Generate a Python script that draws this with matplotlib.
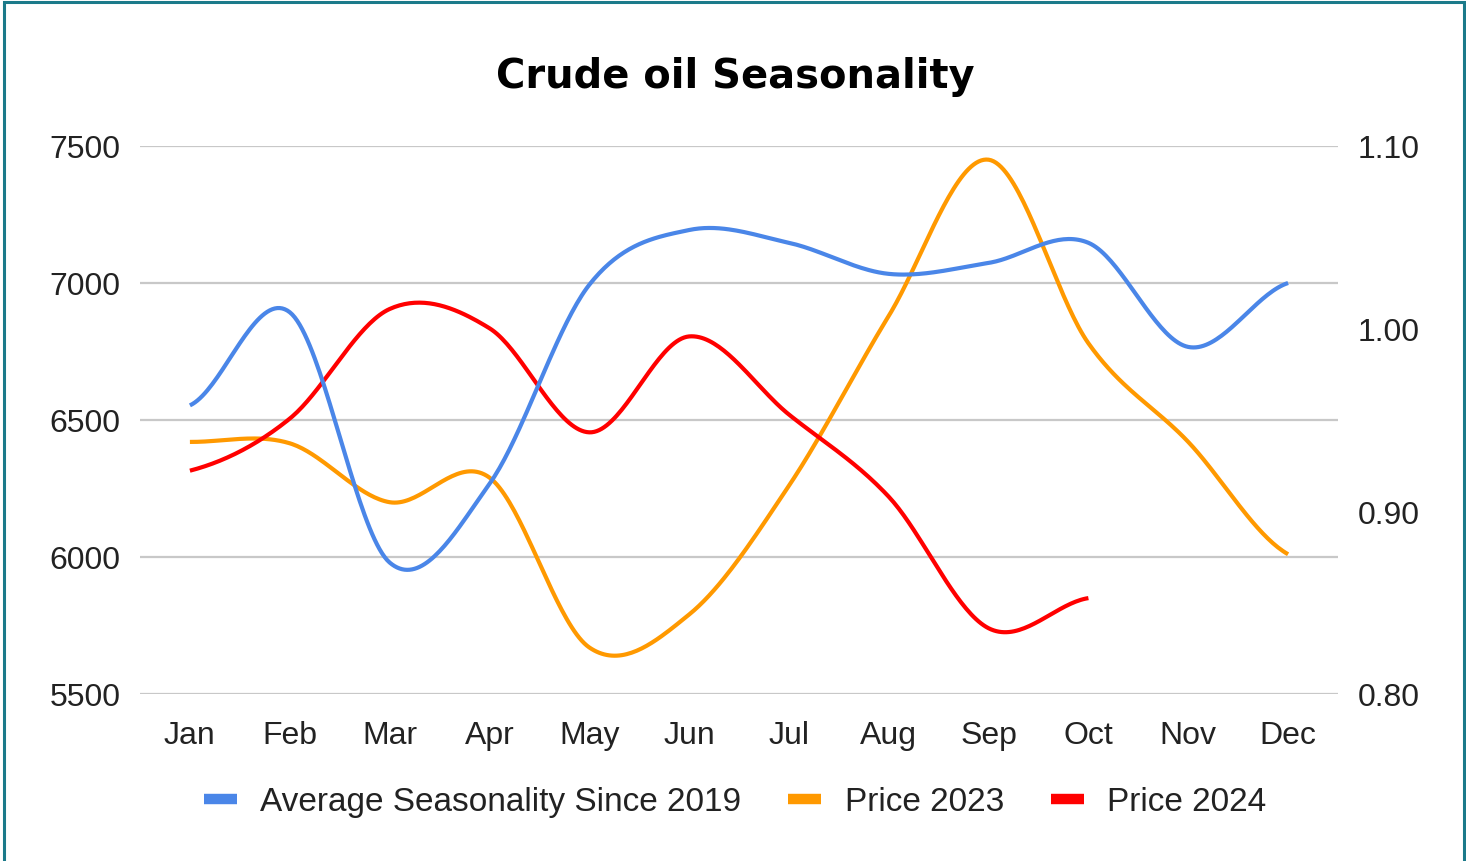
"""
Crude oil seasonality chart: monthly prices (left axis) and the
average seasonality ratio since 2019 (right axis), smoothed lines.
"""
import matplotlib.pyplot as plt
import numpy as np
from matplotlib.lines import Line2D
from matplotlib.patches import Rectangle

meses = ["Jan", "Feb", "Mar", "Apr", "May", "Jun",
         "Jul", "Aug", "Sep", "Oct", "Nov", "Dec"]
estacionalidad = [0.958, 1.009, 0.872, 0.915, 1.024, 1.054,
                  1.047, 1.030, 1.036, 1.047, 0.990, 1.025]
precio_2023 = [6420, 6415, 6200, 6290, 5670, 5790,
               6260, 6880, 7450, 6780, 6420, 6010]
precio_2024 = [6315, 6505, 6905, 6835, 6455, 6805,
               6520, 6220, 5740, 5850]

AZUL = "#4a86e8"
NARANJA = "#ff9900"
ROJO = "#ff0000"
TEXTO = "#222222"


def curva_suave(valores, pasos=40):
    """Catmull-Rom entre puntos mensuales (x uniforme)."""
    y = np.asarray(valores, dtype=float)
    n = len(y)
    yp = np.concatenate([[y[0]], y, [y[-1]]])
    xs, ys = [], []
    for i in range(n - 1):
        p0, p1, p2, p3 = yp[i], yp[i + 1], yp[i + 2], yp[i + 3]
        m1 = (p2 - p0) / 2
        m2 = (p3 - p1) / 2
        t = np.linspace(0, 1, pasos, endpoint=(i == n - 2))
        h00 = 2 * t**3 - 3 * t**2 + 1
        h10 = t**3 - 2 * t**2 + t
        h01 = -2 * t**3 + 3 * t**2
        h11 = t**3 - t**2
        xs.append(i + t)
        ys.append(h00 * p1 + h10 * m1 + h01 * p2 + h11 * m2)
    return np.concatenate(xs), np.concatenate(ys)


plt.rcParams["font.family"] = ["Liberation Sans", "DejaVu Sans"]

fig = plt.figure(figsize=(14.66, 8.62), dpi=100)
ax = fig.add_axes([140 / 1466, 167 / 862, 1198 / 1466, 548 / 862])
ax2 = ax.twinx()

x, y = curva_suave(precio_2023)
ax.plot(x, y, color=NARANJA, lw=3, solid_capstyle="butt", zorder=3)
x, y = curva_suave(precio_2024)
ax.plot(x, y, color=ROJO, lw=3, solid_capstyle="butt", zorder=4)
x, y = curva_suave(estacionalidad)
ax2.plot(x, y, color=AZUL, lw=3, solid_capstyle="butt")

ax.set_xlim(-0.5, 11.5)
ax.set_ylim(5500, 7500)
ax.set_yticks([5500, 6000, 6500, 7000, 7500])
ax.set_xticks(range(len(meses)))
ax.set_xticklabels(meses)
ax.grid(axis="y", color="#c8c8c8", lw=1.6)
ax.set_axisbelow(True)

ax2.set_ylim(0.80, 1.10)
ax2.set_yticks([0.80, 0.90, 1.00, 1.10])
ax2.set_yticklabels([f"{v:.2f}" for v in [0.80, 0.90, 1.00, 1.10]])

for a in (ax, ax2):
    for s in a.spines.values():
        s.set_visible(False)
ax.tick_params(axis="y", length=0, pad=14, labelsize=23, labelcolor=TEXTO)
ax.tick_params(axis="x", length=0, pad=19, labelsize=23, labelcolor=TEXTO)
ax2.tick_params(axis="y", length=0, pad=14, labelsize=23, labelcolor=TEXTO)

fig.text(735 / 1466, 1 - 77 / 862, "Crude oil Seasonality", ha="center",
         va="center", fontsize=28.8, fontweight="bold", family="DejaVu Sans",
         color="black")

manejadores = [
    Line2D([0], [0], color=AZUL, lw=7.5, solid_capstyle="butt"),
    Line2D([0], [0], color=NARANJA, lw=7.5, solid_capstyle="butt"),
    Line2D([0], [0], color=ROJO, lw=7.5, solid_capstyle="butt"),
]
fig.legend(manejadores, ["Average Seasonality Since 2019", "Price 2023", "Price 2024"],
           loc="center", bbox_to_anchor=(735 / 1466, 1 - 803 / 862), ncol=3,
           frameon=False, fontsize=24, handlelength=1.0, handletextpad=0.7,
           columnspacing=1.4, labelcolor=TEXTO)

fig.patches.append(Rectangle((4 / 1466, -0.05), 1460 / 1466, 1.05 - 3 / 862,
                             transform=fig.transFigure, fill=False,
                             edgecolor="#1b7a8a", lw=2.2))

plt.savefig("out.png", dpi=100)
